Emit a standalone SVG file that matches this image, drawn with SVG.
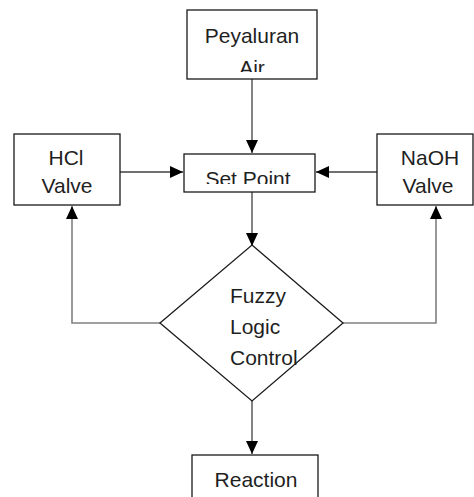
<svg xmlns="http://www.w3.org/2000/svg" width="474" height="497" viewBox="0 0 474 497">
<style>
.box{fill:#fff;stroke:#1a1a1a;stroke-width:1.3}
.t{font-family:"Liberation Sans",Arial,sans-serif;font-size:21px;fill:#1f1f1f;text-anchor:middle}
.tl{text-anchor:start}
.c{fill:none;stroke:#404040;stroke-width:1.3}
.cg{fill:none;stroke:#808080;stroke-width:1.6}
</style>
<defs>
<marker id="ah" markerUnits="userSpaceOnUse" markerWidth="14" markerHeight="12" refX="13" refY="6" orient="auto">
<path d="M0,0 L13,6 L0,12 z" fill="#000"/>
</marker>
<clipPath id="clipAir"><rect x="187" y="10" width="130" height="62"/></clipPath>
<clipPath id="clipSP"><rect x="184" y="154" width="131" height="30"/></clipPath>
</defs>
<rect width="474" height="497" fill="#fff"/>
<g id="connectors">
<path class="c" d="M252,79 V153" marker-end="url(#ah)"/>
<path class="c" d="M120,172 H183" marker-end="url(#ah)"/>
<path class="c" d="M377,172 H316" marker-end="url(#ah)"/>
<path class="c" d="M252,192 V246" marker-end="url(#ah)"/>
<path class="cg" d="M160,323 H72 V206" marker-end="url(#ah)"/>
<path class="cg" d="M343,323 H436 V206" marker-end="url(#ah)"/>
<path class="c" d="M252,401 V454" marker-end="url(#ah)"/>
</g>
<g id="peyaluran">
<rect class="box" x="187" y="10" width="130" height="69"/>
<g clip-path="url(#clipAir)">
<text class="t" x="252" y="43">Peyaluran</text>
<text class="t" x="252" y="75">Air</text>
</g>
</g>
<g id="hcl">
<rect class="box" x="14" y="134" width="106" height="71"/>
<text class="t" x="66" y="165">HCl</text>
<text class="t" x="67" y="193">Valve</text>
</g>
<g id="setpoint">
<rect class="box" x="184" y="154" width="131" height="38"/>
<g clip-path="url(#clipSP)">
<text class="t" x="248" y="186">Set Point</text>
</g>
</g>
<g id="naoh">
<rect class="box" x="377" y="134" width="96" height="71"/>
<text class="t" x="430" y="165">NaOH</text>
<text class="t" x="428" y="193">Valve</text>
</g>
<g id="fuzzy">
<polygon class="box" points="252,245 343,323 252,401 160,323"/>
<text class="t tl" x="230" y="303">Fuzzy</text>
<text class="t tl" x="230" y="334">Logic</text>
<text class="t tl" x="230" y="365">Control</text>
</g>
<g id="reaction">
<rect class="box" x="192" y="455" width="126" height="60"/>
<text class="t" x="256" y="487">Reaction</text>
</g>
</svg>
